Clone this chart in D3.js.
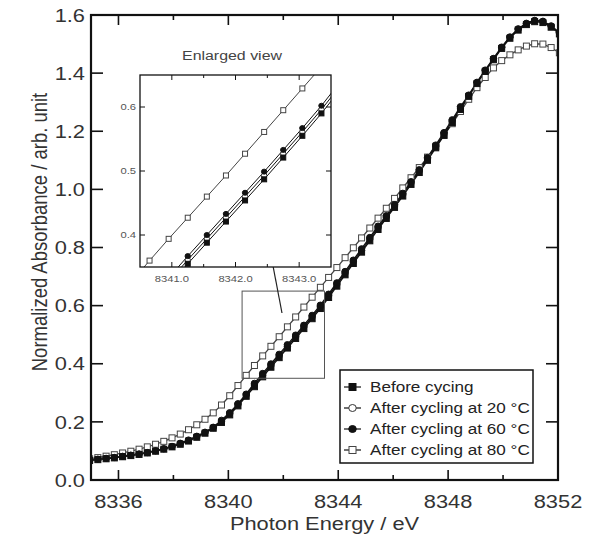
<!DOCTYPE html>
<html><head><meta charset="utf-8">
<script src="https://cdn.jsdelivr.net/npm/d3@7/dist/d3.min.js"></script>
<style>
body{margin:0;background:#fff}
svg{display:block}
text{font-family:"Liberation Sans",Arial,Helvetica,sans-serif}
</style>
</head><body>
<svg id="chart" width="590" height="539"></svg>
<script>
// ---------------- DATA ----------------
const energy = [8334.95,8335.25,8335.55,8335.85,8336.15,8336.45,8336.75,8337.05,8337.35,8337.65,
  8337.95,8338.25,8338.55,8338.85,8339.15,8339.45,8339.75,8340.05,8340.35,8340.65,
  8340.95,8341.25,8341.55,8341.85,8342.15,8342.45,8342.75,8343.05,8343.35,8343.65,
  8343.95,8344.25,8344.55,8344.85,8345.15,8345.45,8345.75,8346.05,8346.35,8346.65,
  8346.95,8347.25,8347.55,8347.85,8348.15,8348.45,8348.75,8349.05,8349.35,8349.65,
  8349.95,8350.25,8350.55,8350.85,8351.15,8351.45,8351.75,8352.05];

const beforeCycling = [0.067,0.070,0.073,0.076,0.080,0.084,0.088,0.093,0.099,0.106,
  0.114,0.123,0.134,0.147,0.161,0.178,0.198,0.224,0.255,0.288,
  0.321,0.355,0.388,0.421,0.454,0.487,0.521,0.555,0.590,0.628,
  0.667,0.706,0.745,0.784,0.823,0.862,0.900,0.938,0.977,1.017,
  1.058,1.100,1.143,1.186,1.230,1.275,1.320,1.364,1.406,1.446,
  1.485,1.520,1.548,1.567,1.577,1.574,1.558,1.535];

const cycled20 = [0.068,0.071,0.074,0.077,0.081,0.085,0.089,0.094,0.100,0.107,
  0.115,0.125,0.136,0.149,0.163,0.180,0.202,0.228,0.259,0.292,
  0.327,0.361,0.394,0.427,0.460,0.493,0.527,0.561,0.596,0.634,
  0.673,0.712,0.751,0.790,0.829,0.868,0.905,0.943,0.982,1.022,
  1.063,1.105,1.148,1.191,1.235,1.280,1.323,1.367,1.409,1.449,
  1.488,1.523,1.551,1.570,1.580,1.577,1.561,1.538];

const cycled60 = [0.069,0.072,0.075,0.078,0.082,0.086,0.090,0.095,0.101,0.108,
  0.116,0.127,0.138,0.151,0.165,0.182,0.206,0.232,0.263,0.296,
  0.333,0.367,0.400,0.433,0.466,0.499,0.533,0.567,0.602,0.640,
  0.679,0.718,0.757,0.796,0.835,0.874,0.910,0.948,0.987,1.027,
  1.068,1.110,1.153,1.196,1.240,1.285,1.325,1.369,1.411,1.451,
  1.490,1.525,1.553,1.572,1.582,1.579,1.563,1.540];

const cycled80 = [0.073,0.077,0.082,0.087,0.093,0.099,0.106,0.114,0.123,0.133,
  0.145,0.158,0.173,0.190,0.209,0.231,0.258,0.290,0.325,0.360,
  0.394,0.427,0.460,0.493,0.527,0.561,0.595,0.629,0.663,0.697,
  0.731,0.765,0.799,0.833,0.867,0.901,0.935,0.969,1.005,1.040,
  1.075,1.111,1.148,1.186,1.226,1.268,1.310,1.350,1.385,1.418,
  1.443,1.463,1.480,1.493,1.501,1.500,1.488,1.470];

const seriesLabels = ["Before cycing","After cycling at 20 \u00B0C","After cycling at 60 \u00B0C","After cycling at 80 \u00B0C"];

const xMajorTicks = [8336, 8340, 8344, 8348, 8352];
const xMinorTicks = [8338, 8342, 8346, 8350];
const yMajorTicks = [0.0, 0.2, 0.4, 0.6, 0.8, 1.0, 1.2, 1.4, 1.6];

const insetXMajor = [8341.0, 8342.0, 8343.0];
const insetXMinor = [8341.5, 8342.5];
const insetYMajor = [0.4, 0.5, 0.6];

const xDomain = [8335, 8352];
const yDomain = [0, 1.6];
const insetXDomain = [8340.5, 8343.5];
const insetYDomain = [0.35, 0.65];

// ---------------- STYLE / LAYOUT ----------------
const seriesData = [beforeCycling, cycled20, cycled60, cycled80];
const markerKind = ["squareFilled", "circleOpen", "circleFilled", "squareOpen"];
const drawOrder = [3, 1, 0, 2];
const SX = 1.18; // horizontal stretch of the lettering

const svg = d3.select("#chart");
const M = {left: 91, right: 558, top: 15, bottom: 480};
const x = d3.scaleLinear().domain(xDomain).range([M.left, M.right]);
const y = d3.scaleLinear().domain(yDomain).range([M.bottom, M.top]);

const I = {left: 140, right: 331, top: 75, bottom: 267};
const ix = d3.scaleLinear().domain(insetXDomain).range([I.left, I.right]);
const iy = d3.scaleLinear().domain(insetYDomain).range([I.bottom, I.top]);

function stretchedText(parent, tx, ty, str, size, anchor, fill, dy) {
  return parent.append("text")
    .attr("transform", `translate(${tx},${ty}) scale(${SX},1)`)
    .attr("text-anchor", anchor).attr("font-size", size).attr("fill", fill)
    .attr("dy", dy || null).text(str);
}

const defs = svg.append("defs");
defs.append("clipPath").attr("id", "clipMain").append("rect")
  .attr("x", M.left).attr("y", M.top).attr("width", M.right - M.left).attr("height", M.bottom - M.top);
defs.append("clipPath").attr("id", "clipInset").append("rect")
  .attr("x", I.left).attr("y", I.top).attr("width", I.right - I.left).attr("height", I.bottom - I.top);
defs.append("marker").attr("id", "arrowHead").attr("viewBox", "0 0 10 10")
  .attr("refX", 9).attr("refY", 5).attr("markerWidth", 9).attr("markerHeight", 9)
  .attr("markerUnits", "userSpaceOnUse").attr("orient", "auto")
  .append("path").attr("d", "M0,1 L10,5 L0,9 Z").attr("fill", "#111");

function drawMarker(g, kind, cx, cy, s) {
  if (kind.startsWith("square")) {
    g.append("rect").attr("x", cx - s / 2).attr("y", cy - s / 2).attr("width", s).attr("height", s)
      .attr("fill", kind === "squareFilled" ? "#111" : "#fff")
      .attr("stroke", kind === "squareFilled" ? "#111" : "#444").attr("stroke-width", 1);
  } else {
    g.append("ellipse").attr("cx", cx).attr("cy", cy).attr("rx", s / 2 * 1.08).attr("ry", s / 2)
      .attr("fill", kind === "circleFilled" ? "#111" : "#fff")
      .attr("stroke", kind === "circleFilled" ? "#111" : "#333").attr("stroke-width", 1);
  }
}

function drawSeries(parent, xs, ys, clipId, size, lw) {
  const g = parent.append("g").attr("clip-path", `url(#${clipId})`);
  const line = d3.line().x((d, i) => xs(energy[i])).y(d => ys(d));
  drawOrder.forEach(si => {
    g.append("path").datum(seriesData[si]).attr("d", line).attr("fill", "none")
      .attr("stroke", markerKind[si] === "squareOpen" ? "#444" : "#111").attr("stroke-width", lw);
  });
  drawOrder.forEach(si => {
    const mg = g.append("g");
    seriesData[si].forEach((v, i) => drawMarker(mg, markerKind[si], xs(energy[i]), ys(v), size));
  });
}

// main data
drawSeries(svg, x, y, "clipMain", 6, 1.3);

// main frame
svg.append("rect").attr("x", M.left).attr("y", M.top).attr("width", M.right - M.left).attr("height", M.bottom - M.top)
  .attr("fill", "none").attr("stroke", "#111").attr("stroke-width", 2.2);

// main ticks (inward, all four sides)
const tg = svg.append("g").attr("stroke", "#111").attr("stroke-width", 1.6);
xMajorTicks.forEach(t => {
  tg.append("line").attr("x1", x(t)).attr("x2", x(t)).attr("y1", M.bottom).attr("y2", M.bottom - 10);
  tg.append("line").attr("x1", x(t)).attr("x2", x(t)).attr("y1", M.top).attr("y2", M.top + 10);
});
xMinorTicks.forEach(t => {
  tg.append("line").attr("x1", x(t)).attr("x2", x(t)).attr("y1", M.bottom).attr("y2", M.bottom - 5);
  tg.append("line").attr("x1", x(t)).attr("x2", x(t)).attr("y1", M.top).attr("y2", M.top + 5);
});
yMajorTicks.forEach(t => {
  tg.append("line").attr("x1", M.left).attr("x2", M.left + 12).attr("y1", y(t)).attr("y2", y(t));
  tg.append("line").attr("x1", M.right).attr("x2", M.right - 12).attr("y1", y(t)).attr("y2", y(t));
});

// main tick labels
const labG = svg.append("g");
xMajorTicks.forEach(t => stretchedText(labG, x(t), 508, d3.format("d")(t), 18.5, "middle", "#333"));
yMajorTicks.forEach(t => stretchedText(labG, 85, y(t), d3.format(".1f")(t), 18.5, "end", "#333", "0.36em"));

// axis titles
stretchedText(svg, (M.left + M.right) / 2, 530, "Photon Energy / eV", 18.5, "middle", "#333");
svg.append("text").attr("transform", `translate(47,232) rotate(-90) scale(1,${SX})`).attr("text-anchor", "middle")
  .attr("font-size", 18.5).attr("fill", "#333").text("Normalized Absorbance / arb. unit");

// zoom rectangle in main plot
svg.append("rect").attr("x", x(insetXDomain[0])).attr("y", y(insetYDomain[1]))
  .attr("width", x(insetXDomain[1]) - x(insetXDomain[0])).attr("height", y(insetYDomain[0]) - y(insetYDomain[1]))
  .attr("fill", "none").attr("stroke", "#555").attr("stroke-width", 1);

// arrow
svg.append("line").attr("x1", 282).attr("y1", 313).attr("x2", 269).attr("y2", 245)
  .attr("stroke", "#222").attr("stroke-width", 1.2).attr("marker-end", "url(#arrowHead)");

// ---------------- INSET ----------------
svg.append("rect").attr("x", I.left).attr("y", I.top).attr("width", I.right - I.left).attr("height", I.bottom - I.top)
  .attr("fill", "#fff");
drawSeries(svg, ix, iy, "clipInset", 5, 1);
svg.append("rect").attr("x", I.left).attr("y", I.top).attr("width", I.right - I.left).attr("height", I.bottom - I.top)
  .attr("fill", "none").attr("stroke", "#111").attr("stroke-width", 1.3);
const itg = svg.append("g").attr("stroke", "#111").attr("stroke-width", 1);
insetXMajor.forEach(t => {
  itg.append("line").attr("x1", ix(t)).attr("x2", ix(t)).attr("y1", I.bottom).attr("y2", I.bottom - 5);
  itg.append("line").attr("x1", ix(t)).attr("x2", ix(t)).attr("y1", I.top).attr("y2", I.top + 5);
});
insetXMinor.forEach(t => {
  itg.append("line").attr("x1", ix(t)).attr("x2", ix(t)).attr("y1", I.bottom).attr("y2", I.bottom - 3);
  itg.append("line").attr("x1", ix(t)).attr("x2", ix(t)).attr("y1", I.top).attr("y2", I.top + 3);
});
insetYMajor.forEach(t => {
  itg.append("line").attr("x1", I.left).attr("x2", I.left + 5).attr("y1", iy(t)).attr("y2", iy(t));
  itg.append("line").attr("x1", I.right).attr("x2", I.right - 5).attr("y1", iy(t)).attr("y2", iy(t));
});
const ilab = svg.append("g");
insetXMajor.forEach(t => stretchedText(ilab, ix(t), 282, d3.format(".1f")(t), 9.5, "middle", "#555"));
insetYMajor.forEach(t => stretchedText(ilab, 136, iy(t), d3.format(".1f")(t), 9.5, "end", "#555", "0.36em"));
stretchedText(svg, 232, 60, "Enlarged view", 13.5, "middle", "#444");

// ---------------- LEGEND ----------------
const L = {x: 340, y: 370, w: 193, h: 93};
svg.append("rect").attr("x", L.x).attr("y", L.y).attr("width", L.w).attr("height", L.h)
  .attr("fill", "#fff").attr("stroke", "#111").attr("stroke-width", 1.5);
const rowY = [387, 408, 429, 450];
seriesLabels.forEach((lab, i) => {
  const g = svg.append("g");
  g.append("line").attr("x1", 344).attr("x2", 361).attr("y1", rowY[i]).attr("y2", rowY[i])
    .attr("stroke", "#111").attr("stroke-width", 1.2);
  drawMarker(g, markerKind[i], 352.5, rowY[i], 7);
  stretchedText(g, 370, rowY[i], lab, 14.5, "start", "#222", "0.36em");
});
</script>
</body></html>
